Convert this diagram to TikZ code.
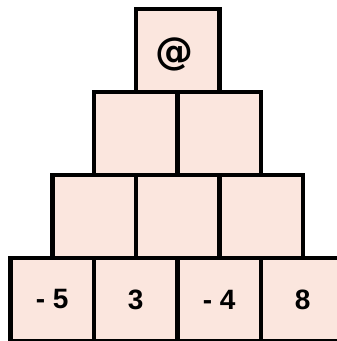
\documentclass[tikz,border=0pt]{standalone}
\usepackage{fontspec}
\setmainfont{Liberation Sans}
\newfontfamily\atfont{DejaVu Sans}
\definecolor{cellfill}{RGB}{251,230,222}
\begin{document}
\begin{tikzpicture}[x=1pt,y=-1pt,
  cell/.style={rectangle,draw=black,fill=cellfill,line width=4.5pt,
    minimum width=83.5pt,minimum height=83pt,inner sep=0pt,
    font=\fontsize{28}{32}\selectfont\bfseries}]
  \useasboundingbox (0,0) rectangle (337,341);
  \clip (0,0) rectangle (337,341);
  % top
  \node[cell,font=\atfont\fontsize{38}{42}\selectfont\bfseries] (top) at (177.5,50.5)
    {\hspace*{-7pt}\raisebox{-14pt}[0pt][0pt]{@}};
  % empty middle rows
  \foreach \r in {1,2}
    \foreach \c in {0,...,\r}
      \node[cell] (m\r\c) at ({177.5-41.75*\r+83.5*\c},{50.5+83*\r}) {};
  % base row
  \foreach \c/\t in {0/- 5,1/3,2/- 4,3/8}
    \node[cell] (b\c) at ({52.25+83.5*\c},299.5) {\t};
\end{tikzpicture}
\end{document}
